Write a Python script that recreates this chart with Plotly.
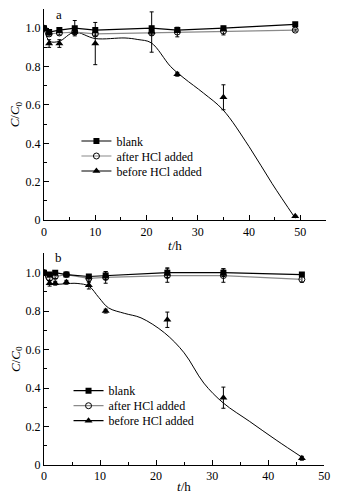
import plotly.graph_objects as go

# ---------------- Panel a data ----------------
t_a = [0, 1, 3, 6, 10, 21, 26, 35, 49]
blank_a = [1.0, 0.98, 0.99, 1.0, 0.99, 1.0, 0.99, 1.0, 1.02]
blank_a_err = [0, 0.005, 0.01, 0.04, 0.01, 0.01, 0.01, 0.01, 0.005]
after_a = [1.0, 0.97, 0.975, 0.98, 0.97, 0.975, 0.98, 0.985, 0.99]
after_a_err = [0, 0.01, 0.01, 0.01, 0.01, 0.01, 0.025, 0.02, 0.005]
before_a = [1.0, 0.92, 0.92, 0.98, 0.92, 0.98, 0.76, 0.64, 0.02]
before_a_err = [0, 0.02, 0.02, 0.01, 0.11, 0.105, 0.01, 0.065, 0.005]
fit_t_a = [0, 1.1, 3.0, 5.9, 10.0, 15.8, 18.3, 20.9, 24.7, 27.3, 31.1, 34.9, 40.0, 44.5, 49.0]
fit_y_a = [1.0, 0.932, 0.932, 0.979, 0.946, 0.949, 0.941, 0.924, 0.80, 0.74, 0.662, 0.575, 0.383, 0.19, 0.01]

# ---------------- Panel b data ----------------
t_b = [0, 1, 2, 4, 8, 11, 22, 32, 46]
blank_b = [1.0, 0.99, 1.0, 0.99, 0.98, 0.985, 1.0, 1.0, 0.99]
blank_b_err = [0, 0.005, 0.005, 0.005, 0.01, 0.02, 0.025, 0.02, 0.01]
after_b = [1.0, 0.97, 0.98, 0.99, 0.97, 0.975, 0.985, 0.985, 0.965]
after_b_err = [0, 0.01, 0.01, 0.01, 0.02, 0.03, 0.035, 0.035, 0.015]
before_b = [1.0, 0.945, 0.945, 0.95, 0.935, 0.80, 0.755, 0.35, 0.035]
before_b_err = [0, 0.015, 0.01, 0.01, 0.02, 0.01, 0.04, 0.055, 0.01]
fit_t_b = [0, 1.0, 5.9, 8.0, 9.8, 11.5, 14.4, 17.3, 21.5, 25.0, 28.5, 32.0, 36.7, 41.4, 46.3]
fit_y_b = [1.0, 0.947, 0.944, 0.93, 0.87, 0.817, 0.788, 0.765, 0.687, 0.583, 0.426, 0.322, 0.226, 0.13, 0.035]

series_names = ["blank", "after HCl added", "before HCl added"]
y_tickvals = [0, 0.2, 0.4, 0.6, 0.8, 1.0]
y_ticktext = ["0", "0.2", "0.4", "0.6", "0.8", "1.0"]
x_tickvals_a = [0, 10, 20, 30, 40, 50]
x_tickvals_b = [0, 10, 20, 30, 40, 50]

FONT = "Liberation Serif"
GRAY = "#8a8a8a"

fig = go.Figure()


def err(vals):
    return dict(type="data", array=vals, visible=True, color="black", thickness=1, width=2)


def add_panel(xa, ya, legends, t, blank, blank_e, after, after_e, before, before_e, ft, fy):
    fig.add_trace(go.Scatter(x=ft, y=fy, mode="lines", line=dict(color="black", width=1, shape="spline", smoothing=1.0),
                             showlegend=False, xaxis=xa, yaxis=ya, hoverinfo="skip"))
    fig.add_trace(go.Scatter(x=t, y=after, mode="lines+markers", name=series_names[1],
                             line=dict(color=GRAY, width=1.2),
                             marker=dict(symbol="circle-open", size=6, color="black", line=dict(width=1)),
                             error_y=err(after_e), xaxis=xa, yaxis=ya, legend=legends[1]))
    fig.add_trace(go.Scatter(x=t, y=blank, mode="lines+markers", name=series_names[0],
                             line=dict(color="black", width=1.2),
                             marker=dict(symbol="square", size=6, color="black"),
                             error_y=err(blank_e), xaxis=xa, yaxis=ya, legend=legends[0]))
    fig.add_trace(go.Scatter(x=t, y=before, mode="markers", name=series_names[2],
                             marker=dict(symbol="triangle-up", size=7, color="black"),
                             error_y=err(before_e), xaxis=xa, yaxis=ya, showlegend=False))
    fig.add_trace(go.Scatter(x=[None], y=[None], mode="lines+markers", name=series_names[2],
                             line=dict(color="black", width=1.2),
                             marker=dict(symbol="triangle-up", size=7, color="black"),
                             xaxis=xa, yaxis=ya, legend=legends[2]))


add_panel("x", "y", ["legend", "legend2", "legend3"], t_a, blank_a, blank_a_err, after_a, after_a_err,
          before_a, before_a_err, fit_t_a, fit_y_a)
add_panel("x2", "y2", ["legend4", "legend5", "legend6"], t_b, blank_b, blank_b_err, after_b, after_b_err,
          before_b, before_b_err, fit_t_b, fit_y_b)

axis_common = dict(showline=True, linecolor="black", linewidth=1, ticks="inside", ticklen=5, tickcolor="black",
                   showgrid=False, zeroline=False, tickfont=dict(family=FONT, size=12, color="black"))


def leg(x, y):
    return dict(x=x, y=y, xanchor="left", yanchor="middle", bgcolor="rgba(0,0,0,0)",
                font=dict(family=FONT, size=12, color="black"), itemwidth=30)


fig.update_layout(
    width=341, height=493,
    margin=dict(l=44, r=10, t=9, b=28),
    paper_bgcolor="white", plot_bgcolor="white",
    font=dict(family=FONT, size=12, color="black"),
    xaxis=dict(domain=[0, 1], anchor="y", range=[0, 55], tickvals=x_tickvals_a,
               minor=dict(ticks="inside", dtick=5, ticklen=3, tickcolor="black"), **axis_common),
    yaxis=dict(domain=[0.537, 1.0], anchor="x", range=[0, 1.1], tickvals=y_tickvals, ticktext=y_ticktext,
               minor=dict(ticks="inside", dtick=0.1, ticklen=3, tickcolor="black"), **axis_common),
    xaxis2=dict(domain=[0, 0.994], anchor="y2", range=[0, 50], tickvals=x_tickvals_b,
                minor=dict(ticks="inside", dtick=5, ticklen=3, tickcolor="black"), **axis_common),
    yaxis2=dict(domain=[0, 0.464], anchor="x2", range=[0, 1.1], tickvals=y_tickvals, ticktext=y_ticktext,
                minor=dict(ticks="inside", dtick=0.1, ticklen=3, tickcolor="black"), **axis_common),
    legend=leg(0.115, 0.7105),
    legend2=leg(0.115, 0.6776),
    legend3=leg(0.115, 0.6447),
    legend4=leg(0.087, 0.1629),
    legend5=leg(0.087, 0.1300),
    legend6=leg(0.087, 0.0971),
    showlegend=True,
)

# axis titles and panel labels
ytitle = "<i>C</i>/<i>C</i><sub>0</sub>"
fig.add_annotation(text=ytitle, xref="paper", yref="paper", x=-0.1, y=(0.537 + 1.0) / 2, textangle=-90,
                   xanchor="center", yanchor="middle", showarrow=False, font=dict(family=FONT, size=13))
fig.add_annotation(text=ytitle, xref="paper", yref="paper", x=-0.1, y=0.464 / 2, textangle=-90,
                   xanchor="center", yanchor="middle", showarrow=False, font=dict(family=FONT, size=13))
fig.add_annotation(text="<i>t</i>/h", xref="paper", yref="paper", x=0.465, y=0.482, showarrow=False,
                   xanchor="center", yanchor="middle", font=dict(family=FONT, size=13))
fig.add_annotation(text="<i>t</i>/h", xref="paper", yref="paper", x=0.495, y=-0.048, showarrow=False,
                   xanchor="center", yanchor="middle", font=dict(family=FONT, size=13))
fig.add_annotation(text="a", xref="paper", yref="paper", x=0.052, y=0.989, showarrow=False,
                   xanchor="center", yanchor="middle", font=dict(family=FONT, size=13))
fig.add_annotation(text="b", xref="paper", yref="paper", x=0.052, y=0.456, showarrow=False,
                   xanchor="center", yanchor="middle", font=dict(family=FONT, size=13))

fig.write_html("out.html", config={"displayModeBar": False},
               post_script="document.body.style.margin='0';")
